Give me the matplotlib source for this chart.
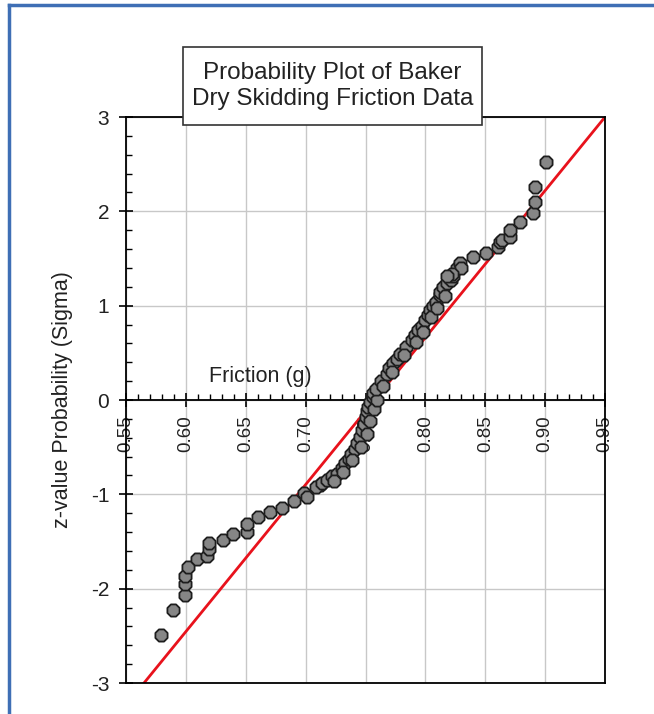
import matplotlib
matplotlib.use("Agg")
import matplotlib.pyplot as plt
from matplotlib.ticker import MultipleLocator, FormatStrFormatter
from matplotlib.lines import Line2D
from matplotlib.patches import Rectangle

plt.rcParams['font.family'] = ['Liberation Sans', 'DejaVu Sans']

# friction values (g) and their z-value on the probability scale
friction = [0.579, 0.589, 0.599, 0.599, 0.599, 0.602, 0.609, 0.618, 0.619, 0.619,
            0.631, 0.639, 0.651, 0.651, 0.660, 0.670, 0.680, 0.690, 0.699, 0.701,
            0.712,
            0.709, 0.714, 0.718, 0.722, 0.726, 0.730, 0.733, 0.736, 0.738, 0.741,
            0.743, 0.745, 0.747, 0.749, 0.750, 0.751, 0.752, 0.754, 0.756, 0.756,
            0.724, 0.731, 0.739, 0.746, 0.751, 0.754, 0.757, 0.760,
            0.759, 0.763, 0.768, 0.770, 0.773, 0.776, 0.779, 0.784, 0.789, 0.791,
            0.794, 0.797, 0.800, 0.802, 0.804, 0.806, 0.809, 0.812, 0.812, 0.815,
            0.818, 0.821, 0.823, 0.826, 0.829, 0.830, 0.822, 0.818,
            0.765, 0.772, 0.782, 0.792, 0.798, 0.805, 0.810, 0.816,
            0.840, 0.851, 0.861, 0.862, 0.864, 0.871, 0.871, 0.879, 0.890, 0.8915,
            0.8915, 0.9007]
zvalue = [-2.49, -2.23, -2.07, -1.95, -1.87, -1.77, -1.69, -1.65, -1.58, -1.52,
          -1.48, -1.42, -1.40, -1.31, -1.24, -1.19, -1.15, -1.07, -0.99, -1.03,
          -0.90,
          -0.92, -0.88, -0.85, -0.81, -0.78, -0.72, -0.67, -0.62, -0.57, -0.52,
          -0.46, -0.39, -0.32, -0.25, -0.18, -0.12, -0.07, -0.02, 0.03, 0.07,
          -0.86, -0.76, -0.64, -0.50, -0.36, -0.22, -0.10, 0.00,
          0.12, 0.20, 0.28, 0.34, 0.39, 0.44, 0.49, 0.56, 0.64, 0.69,
          0.74, 0.78, 0.85, 0.90, 0.95, 1.00, 1.04, 1.11, 1.15, 1.20,
          1.24, 1.27, 1.31, 1.40, 1.45, 1.40, 1.34, 1.31,
          0.15, 0.30, 0.48, 0.62, 0.72, 0.88, 0.98, 1.10,
          1.52, 1.56, 1.62, 1.68, 1.70, 1.73, 1.80, 1.89, 1.98, 2.10,
          2.26, 2.52]

# normal fit line end points
fit_z = [-3, 3]
fit_x = [0.565, 0.95]

fig = plt.figure(figsize=(6.54, 7.14), dpi=100)
ax = fig.add_axes([0.1927, 0.0434, 0.7324, 0.7927])

ax.set_xlim(0.55, 0.95)
ax.set_ylim(-3, 3)
ax.grid(True, color='#c8c8c8', linewidth=1)
ax.set_axisbelow(True)

ax.plot(fit_x, fit_z, color='#e8121c', linewidth=2, zorder=2)
ax.scatter(friction, zvalue, s=90, marker='8', facecolor='#868686',
           edgecolor='#1e1e1e', linewidth=1.3, zorder=3)

# x axis sits on z = 0
ax.spines['bottom'].set_position(('data', 0))
ax.spines['bottom'].set_linewidth(1.3)
for s in ['top', 'left', 'right']:
    ax.spines[s].set_linewidth(1.3)
ax.add_line(Line2D([0, 1], [0, 0], transform=ax.transAxes, color='k',
                   linewidth=1.3, clip_on=False))

ax.xaxis.set_major_locator(MultipleLocator(0.05))
ax.xaxis.set_minor_locator(MultipleLocator(0.01))
ax.xaxis.set_major_formatter(FormatStrFormatter('%.2f'))
ax.yaxis.set_major_locator(MultipleLocator(1))
ax.yaxis.set_minor_locator(MultipleLocator(0.2))
ax.yaxis.set_major_formatter(FormatStrFormatter('%d'))

ax.tick_params(axis='x', which='major', direction='inout', length=10, width=1.2,
               labelsize=13.5, labelrotation=90, pad=6, labelcolor='#222222')
ax.tick_params(axis='x', which='minor', direction='in', length=4, width=1)
ax.tick_params(axis='y', which='major', direction='inout', length=10, width=1.2,
               labelsize=15, pad=7, labelcolor='#222222')
ax.tick_params(axis='y', which='minor', direction='in', length=4, width=1)

ax.set_ylabel('z-value Probability (Sigma)', fontsize=15.5, color='#222222', labelpad=13)
ax.text(0.662, 0.25, 'Friction (g)', fontsize=15.5, ha='center', va='center',
        color='#222222')

# title box
fig.add_artist(Rectangle((0.2798, 0.825), 0.457, 0.109, transform=fig.transFigure,
                         facecolor='white', edgecolor='#333333', linewidth=1.2,
                         zorder=5))
fig.text(0.5084, 0.8796, 'Probability Plot of Baker\nDry Skidding Friction Data',
         ha='center', va='center', fontsize=17.5, color='#222222', linespacing=1.2,
         zorder=6)

# page frame (top and left edges)
fig.add_artist(Line2D([0.0138, 1], [0.993, 0.993], color='#3f6fb5', linewidth=2.5))
fig.add_artist(Line2D([0.0138, 0.0138], [0, 0.993], color='#3f6fb5', linewidth=2.5))

fig.savefig('out.png', dpi=100)
